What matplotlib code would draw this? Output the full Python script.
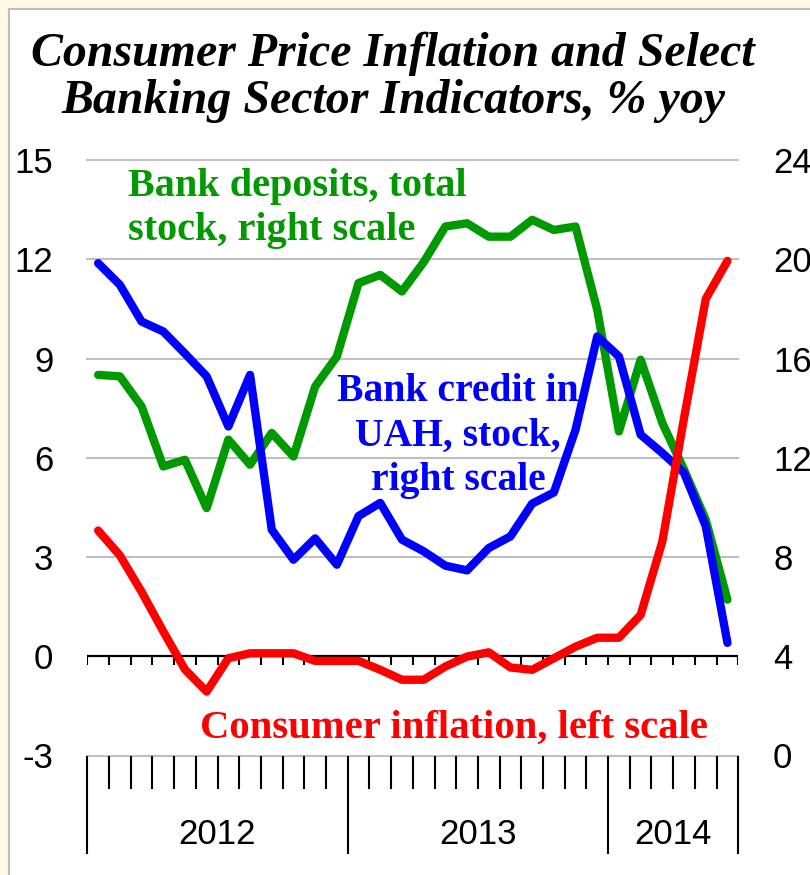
import numpy as np
import matplotlib.pyplot as plt
import matplotlib.transforms as mtransforms
from matplotlib.patches import Rectangle

plt.rcParams["axes.unicode_minus"] = False

# monthly data, Jan 2012 - Jun 2014
inflation = [3.80, 3.05, 1.95, 0.75, -0.40, -1.07, -0.06, 0.09, 0.09, 0.09,
             -0.14, -0.14, -0.14, -0.41, -0.71, -0.71, -0.31, -0.01, 0.12, -0.34,
             -0.41, -0.06, 0.29, 0.56, 0.56, 1.25, 3.47, 7.20, 10.80, 11.95]
deposits = [15.34, 15.28, 14.07, 11.65, 11.92, 9.97, 12.73, 11.72, 13.00, 12.05,
            14.87, 16.08, 19.04, 19.37, 18.70, 19.88, 21.32, 21.45, 20.91, 20.91,
            21.59, 21.18, 21.32, 17.96, 13.06, 15.95, 13.40, 11.52, 9.50, 6.28]
credit = [19.84, 18.97, 17.49, 17.09, 16.20, 15.28, 13.26, 15.34, 9.10, 7.89,
          8.75, 7.69, 9.65, 10.18, 8.70, 8.23, 7.65, 7.46, 8.36, 8.83,
          10.15, 10.60, 13.13, 16.89, 16.08, 12.93, 12.19, 11.39, 9.24, 4.54]

years = ["2012", "2013", "2014"]
year_edges = [0, 12, 24, 30]
left_ticks = [-3, 0, 3, 6, 9, 12, 15]
right_ticks = [0, 4, 8, 12, 16, 20, 24]

x = np.arange(len(inflation)) + 0.5
W, H = 810, 875

fig = plt.figure(figsize=(8.1, 8.75), dpi=100, facecolor="#FFF8E5")
# white panel with grey frame
fig.patches.append(Rectangle((9 / W, -0.1), 1.2, (H - 8.5) / H + 0.1,
                             transform=fig.transFigure, facecolor="white",
                             edgecolor="#BDBDBD", lw=1.5, zorder=-5))

ax = fig.add_axes([87.3 / W, 119.5 / H, 651 / W, 595.5 / H])
ax.patch.set_visible(False)
axl = ax.twinx()
ax.yaxis.tick_right()
axl.yaxis.tick_left()

ax.set_xlim(0, 30)
ax.set_ylim(0, 24)
axl.set_ylim(-3, 15)
ax.set_yticks(right_ticks)
axl.set_yticks(left_ticks)

for a in (ax, axl):
    for s in a.spines.values():
        s.set_visible(False)
    a.tick_params(axis="y", length=0, labelsize=25)
    for lab in a.get_yticklabels():
        lab.set_family("Liberation Sans")
ax.tick_params(axis="y", pad=25)
axl.tick_params(axis="y", pad=24.5)

# gridlines
for v in right_ticks:
    if v != 4:
        ax.axhline(v, color="#C0C0C0", lw=1.5, clip_on=False, zorder=0)
ax.axhline(4, color="black", lw=1.6, zorder=1)
ax.vlines(np.arange(31), 4 - 0.36, 4, color="black", lw=1.5, zorder=1)

# bottom category axis
ax.set_xticks(year_edges)
ax.set_xticks(np.arange(31), minor=True)
ax.tick_params(axis="x", which="major", length=70.5, width=1.5, direction="out",
               labelbottom=False)
ax.tick_params(axis="x", which="minor", length=23.8, width=1.5, direction="out")
trans = mtransforms.blended_transform_factory(ax.transData, ax.transAxes)
for i, yr in enumerate(years):
    mid = (year_edges[i] + year_edges[i + 1]) / 2
    ax.text(mid, -0.1319, yr, transform=trans, ha="center", va="center",
            fontsize=25, family="Liberation Sans")

# lines
line_kw = dict(lw=6, solid_joinstyle="round", solid_capstyle="round", clip_on=False)
ax.plot(x, deposits, color="#009900", zorder=2, **line_kw)
ax.plot(x, credit, color="#0000FF", zorder=3, **line_kw)
axl.plot(x, inflation, color="#FF0000", zorder=3, **line_kw)

# labels
serif = "Liberation Serif"
fig.text(393 / W, 1 - 32 / H,
         "Consumer Price Inflation and Select\nBanking Sector Indicators, % yoy",
         ha="center", va="top", fontsize=34.5, fontweight="bold", fontstyle="italic",
         family=serif, linespacing=1.08)
fig.text(128 / W, 1 - 168 / H, "Bank deposits, total\nstock, right scale",
         ha="left", va="top", fontsize=29, fontweight="bold", color="#009900",
         family=serif, linespacing=1.25)
fig.text(458 / W, 1 - 373 / H, "Bank credit in\nUAH, stock,\nright scale",
         ha="center", va="top", fontsize=28.5, fontweight="bold", color="#0000FF",
         family=serif, linespacing=1.27, multialignment="center")
fig.text(454 / W, 1 - 738 / H, "Consumer inflation, left scale",
         ha="center", va="baseline", fontsize=29.3, fontweight="bold", color="#FF0000",
         family=serif)

fig.savefig("out.png", dpi=100, facecolor=fig.get_facecolor())
